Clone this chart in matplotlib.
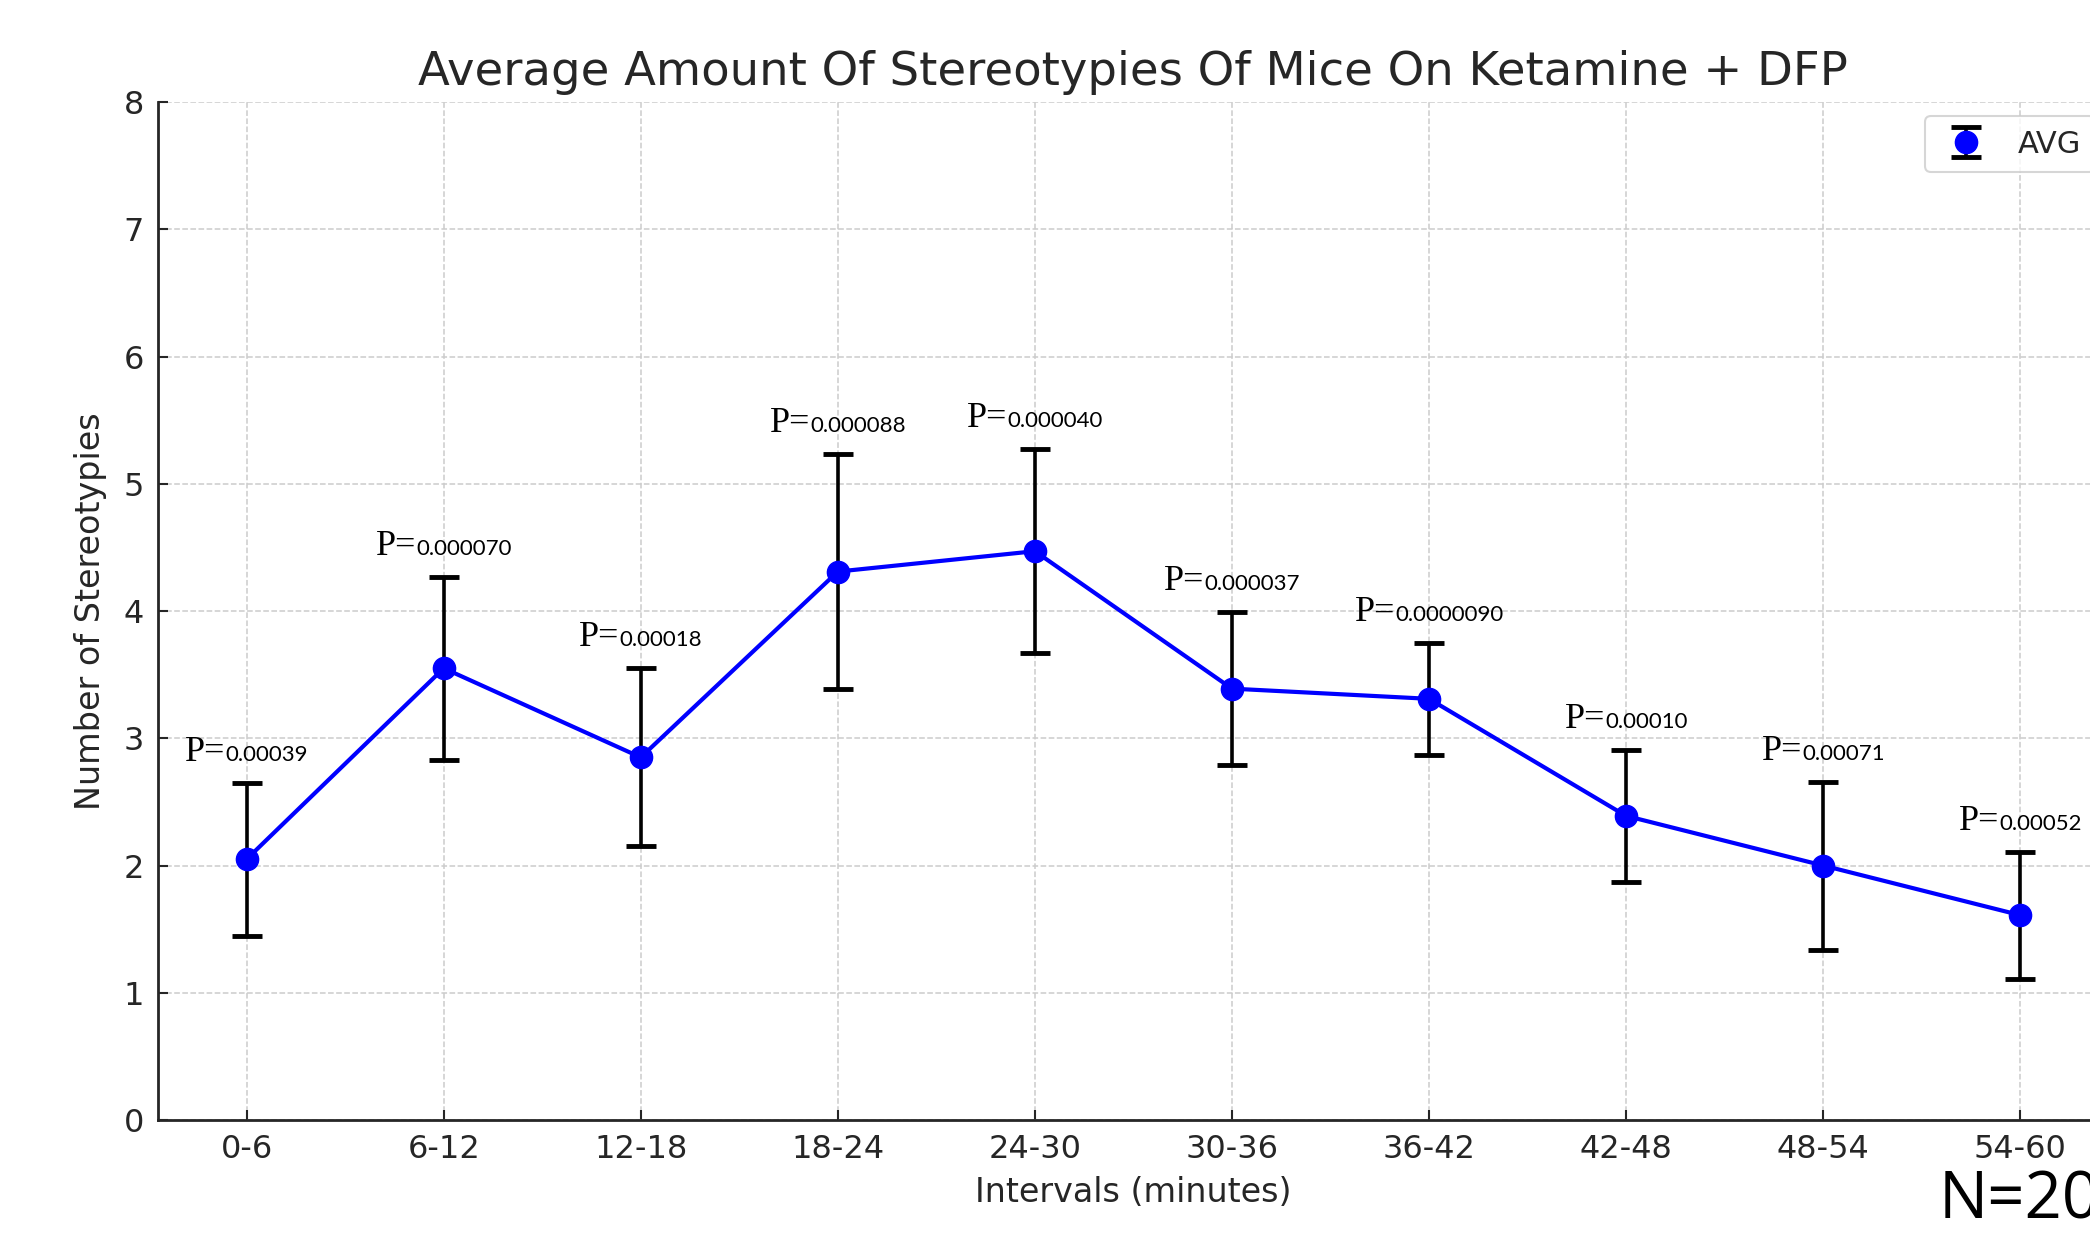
import matplotlib
matplotlib.use("Agg")
import matplotlib.pyplot as plt
from matplotlib.offsetbox import TextArea, HPacker, AnnotationBbox

# Stereotypy counts per 6-minute interval
intervals = ["0-6", "6-12", "12-18", "18-24", "24-30", "30-36",
             "36-42", "42-48", "48-54", "54-60"]
avg = [2.05, 3.55, 2.85, 4.31, 4.47, 3.39, 3.31, 2.39, 2.00, 1.61]
err = [0.60, 0.72, 0.70, 0.92, 0.80, 0.60, 0.44, 0.52, 0.66, 0.50]
p_values = ["0.00039", "0.000070", "0.00018", "0.000088", "0.000040",
            "0.000037", "0.0000090", "0.00010", "0.00071", "0.00052"]

TEXT = "#262626"

fig = plt.figure(figsize=(20.9, 12.38), dpi=100)
ax = fig.add_axes([0.0756, 0.0953, 0.9334, 0.8223])

x = list(range(len(intervals)))
ax.plot(x, avg, "-", color="blue", lw=3, zorder=3)
ax.errorbar(x, avg, yerr=err, fmt="o", color="blue", ecolor="black",
            ms=16, elinewidth=2.6, capsize=11, capthick=3.5,
            label="AVG", zorder=4)

# p-value labels: serif "P=" followed by a smaller sans number
for xi, m, e, p in zip(x, avg, err, p_values):
    head = TextArea("P=", textprops=dict(fontsize=26, family="Liberation Serif",
                                         color="black"))
    num = TextArea(p, textprops=dict(fontsize=16, family="Lato",
                                     color="black"))
    box = HPacker(children=[head, num], align="baseline", pad=0, sep=0)
    ab = AnnotationBbox(box, (xi, m + e + 0.11), box_alignment=(0.5, 0.0),
                        frameon=False, pad=0)
    ax.add_artist(ab)

ax.set_xticks(x)
ax.set_xticklabels(intervals)
ax.set_ylim(0, 8)
ax.set_xlim(-0.45, len(intervals) - 0.55)
ax.grid(True, linestyle="--", color="#cccccc", linewidth=1.1)
ax.set_axisbelow(True)
for s in ("top", "right"):
    ax.spines[s].set_visible(False)
for s in ("left", "bottom"):
    ax.spines[s].set_linewidth(2)
    ax.spines[s].set_color(TEXT)
ax.tick_params(direction="in", length=7, width=1.5, labelsize=23,
               colors=TEXT, pad=10)

ax.set_title("Average Amount Of Stereotypies Of Mice On Ketamine + DFP",
             fontsize=33.5, color=TEXT, pad=12)
ax.set_xlabel("Intervals (minutes)", fontsize=24, color=TEXT, labelpad=8)
ax.set_ylabel("Number of Stereotypies", fontsize=24, color=TEXT, labelpad=12)

leg = ax.legend(loc="upper right", fontsize=22, borderpad=0.45,
                handletextpad=0.8, handlelength=1.8, borderaxespad=0.45)
leg.get_frame().set_edgecolor("#cccccc")
leg.get_frame().set_linewidth(1.5)
for t in leg.get_texts():
    t.set_color(TEXT)

fig.text(0.9275, 0.016, "N=20", fontsize=47, family="Open Sans",
         color="black", ha="left", va="baseline")

fig.savefig("out.png", dpi=100)
